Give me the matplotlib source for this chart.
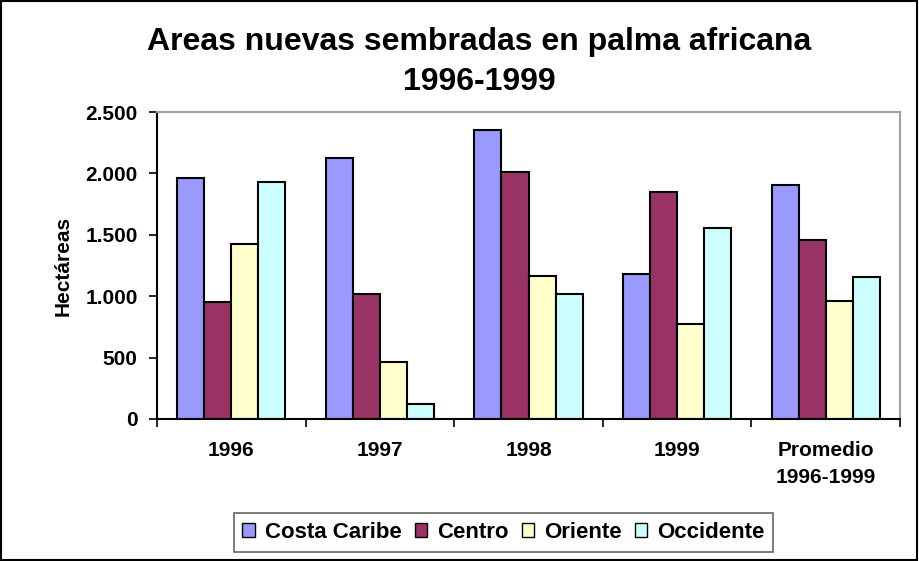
import numpy as np
import matplotlib
matplotlib.use("Agg")
import matplotlib.pyplot as plt
from matplotlib.patches import Rectangle
from matplotlib.ticker import FuncFormatter

plt.rcParams['font.family'] = ['Liberation Sans', 'DejaVu Sans']

# datos (hectáreas)
categorias = ["1996", "1997", "1998", "1999", "Promedio\n1996-1999"]
costa_caribe = [1961, 2124, 2351, 1184, 1905]
centro = [956, 1021, 2012, 1850, 1460]
oriente = [1425, 466, 1167, 775, 958]
occidente = [1934, 125, 1021, 1557, 1159]

series = [("Costa Caribe", costa_caribe, "#9999FF"),
          ("Centro", centro, "#993366"),
          ("Oriente", oriente, "#FFFFCC"),
          ("Occidente", occidente, "#CCFFFF")]

fig = plt.figure(figsize=(9.19, 5.61), dpi=100)
ax = fig.add_axes([157/919, 1 - 419/561, (900 - 157)/919, (419 - 112)/561])

x = np.arange(len(categorias)) + 0.5
ancho = 1 / 5.5
for j, (nombre, vals, color) in enumerate(series):
    ax.bar(x + (j - 1.5) * ancho, vals, ancho, color=color,
           edgecolor="black", linewidth=1.5, label=nombre)

ax.set_xlim(0, len(categorias))
ax.set_ylim(0, 2500)
ax.set_yticks(np.arange(0, 2501, 500))
ax.yaxis.set_major_formatter(FuncFormatter(lambda v, p: f"{int(v):,}".replace(",", ".")))

ax.set_xticks(np.arange(0, len(categorias) + 1))
ax.set_xticklabels([])
ax.set_xticks(x, minor=True)
ax.set_xticklabels(categorias, minor=True, fontsize=15, fontweight="bold",
                   linespacing=1.55, va="top")
ax.tick_params(axis="x", which="minor", length=0, pad=16)
ax.tick_params(axis="x", which="major", length=6, width=1.2, direction="out")
ax.tick_params(axis="y", length=6, width=1.2, direction="out", labelsize=15, pad=8)
for lbl in ax.get_yticklabels():
    lbl.set_fontweight("bold")

for s in ["top", "right"]:
    ax.spines[s].set_color("#A0A0A0")
    ax.spines[s].set_linewidth(1.5)
for s in ["left", "bottom"]:
    ax.spines[s].set_color("black")
    ax.spines[s].set_linewidth(1.5)

ax.set_ylabel("Hectáreas", fontsize=15, fontweight="bold", labelpad=9)

fig.text(479/919, 1 - 42/561, "Areas nuevas sembradas en palma africana",
         ha="center", va="center", fontsize=23, fontweight="bold")
fig.text(479/919, 1 - 82/561, "1996-1999",
         ha="center", va="center", fontsize=23, fontweight="bold")

leg = fig.legend(loc="center", bbox_to_anchor=(503.5/919, 1 - 532.5/561), ncol=4,
                 frameon=True, fancybox=False,
                 prop={"weight": "bold", "size": 16},
                 handlelength=0.55, handleheight=0.55, handletextpad=0.45,
                 columnspacing=0.6, borderpad=0.4, edgecolor="#404040")
leg.get_frame().set_linewidth(1.2)
for h in leg.legend_handles:
    h.set_linewidth(1.0)

fig.patches.append(Rectangle((0.001, 0.001), 0.997, 0.997, transform=fig.transFigure,
                             fill=False, edgecolor="black", linewidth=1.5))

fig.savefig("out.png", dpi=100)
